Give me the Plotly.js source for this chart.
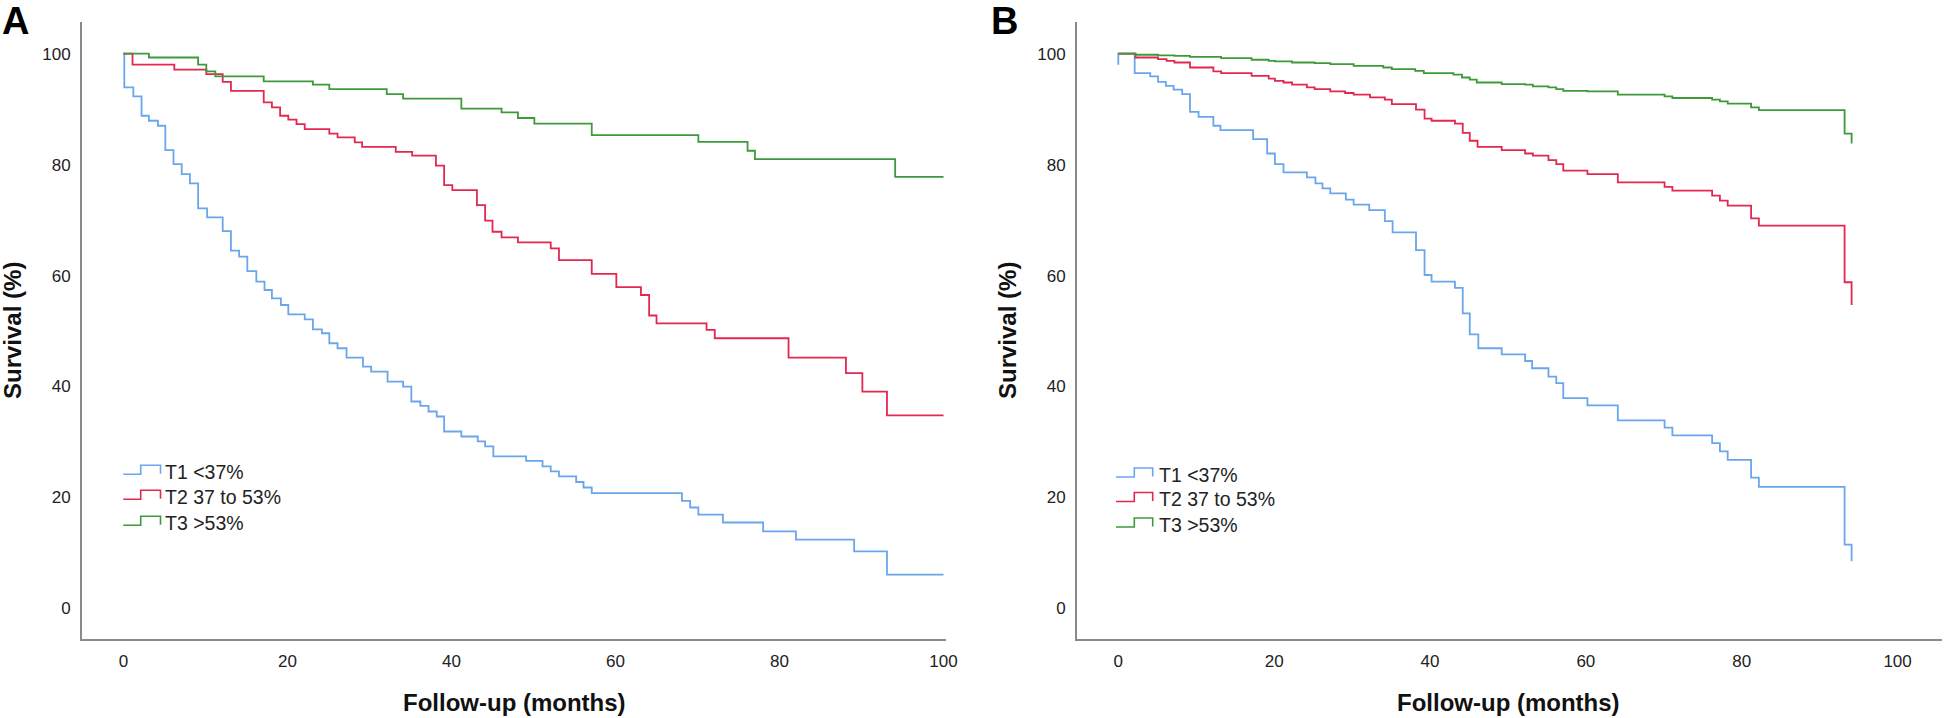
<!DOCTYPE html>
<html>
<head>
<meta charset="utf-8">
<script src="https://cdn.plot.ly/plotly-3.0.1.min.js"></script>
<style>
  html, body { margin: 0; padding: 0; background: #ffffff; }
  #chart { width: 1945px; height: 718px; }
</style>
</head>
<body>
<div id="chart"></div>
<script>
// ---------- Data ----------
const groupNames = ['T1 <37%', 'T2 37 to 53%', 'T3 >53%'];
const xTickVals = [0, 20, 40, 60, 80, 100];
const yTickVals = [0, 20, 40, 60, 80, 100];

// Panel A
const aT1Time = [0, 0.1, 1.2, 2.2, 3.1, 4.2, 5.1, 6.1, 7.1, 8.1, 9.1, 10.2, 12.1, 13.1, 14.1, 15.1, 16.2, 17.2, 18.1, 19.2, 20.1, 22.1, 23.1, 24.2, 25.1, 26.1, 27.2, 29.2, 30.2, 32.2, 34.1, 35.1, 36.2, 37.2, 38.2, 39.1, 41.2, 43.2, 44.1, 45.1, 49.1, 51.1, 52.1, 53.1, 55.2, 56.1, 57.1, 68.1, 69.1, 70.1, 73.1, 78.0, 82.0, 89.1, 93.1, 100];
const aT1Surv = [100, 93.9, 92.3, 88.8, 87.9, 87.0, 82.6, 80.1, 78.3, 76.6, 72.1, 70.5, 68.0, 64.5, 63.4, 60.8, 58.9, 57.4, 55.9, 54.7, 53.0, 52.1, 50.3, 49.6, 47.8, 46.9, 45.2, 43.6, 42.7, 40.9, 40.0, 37.3, 36.5, 35.5, 34.6, 31.9, 31.0, 30.1, 29.2, 27.4, 26.6, 25.6, 24.7, 23.8, 22.8, 21.8, 20.8, 19.4, 18.2, 16.9, 15.5, 13.9, 12.4, 10.3, 6.1, 6.1];

const aT2Time = [0, 1.1, 6.2, 10.1, 12.1, 13.1, 17.1, 18.1, 19.1, 20.1, 21.1, 22.1, 25.1, 26.1, 28.2, 29.1, 33.2, 35.2, 38.1, 39.1, 40.1, 43.1, 44.1, 45.0, 46.1, 48.1, 52.1, 53.1, 57.1, 60.1, 63.1, 64.1, 65.0, 71.1, 72.1, 81.1, 88.1, 90.1, 93.1, 100];
const aT2Surv = [100, 98.0, 97.1, 96.3, 94.9, 93.3, 91.2, 90.3, 88.8, 88.1, 87.3, 86.4, 85.6, 84.9, 84.0, 83.2, 82.3, 81.6, 79.8, 76.3, 75.4, 72.7, 69.9, 67.9, 66.9, 66.0, 64.9, 62.8, 60.3, 57.9, 56.5, 52.8, 51.4, 50.2, 48.7, 45.2, 42.4, 39.1, 34.8, 34.8];

const aT3Time = [0, 3.1, 9.1, 10.1, 11.2, 17.1, 23.1, 25.1, 32.1, 34.1, 41.2, 46.1, 48.1, 50.1, 57.1, 70.1, 76.1, 77.0, 94.1, 100];
const aT3Surv = [100, 99.3, 98.0, 96.8, 95.9, 95.0, 94.4, 93.6, 92.7, 91.9, 90.1, 89.4, 88.4, 87.4, 85.3, 84.1, 82.5, 81.0, 77.8, 77.8];

// Panel B
const bT1Time = [0, 0, 2.1, 4.1, 5.1, 6.1, 7.1, 8.2, 9.2, 10.3, 12.2, 13.1, 17.3, 19.1, 20.1, 21.2, 24.2, 25.3, 26.2, 27.2, 29.2, 30.2, 32.2, 34.2, 35.2, 38.2, 39.3, 40.2, 43.2, 44.2, 45.1, 46.2, 49.2, 52.2, 53.1, 55.2, 56.2, 57.1, 60.2, 64.1, 70.1, 71.1, 76.2, 77.2, 78.2, 81.2, 82.2, 93.2, 94.1];
const bT1Surv = [98.0, 100, 96.5, 95.9, 94.9, 94.2, 93.5, 92.7, 89.5, 88.6, 87.0, 86.2, 84.6, 82.0, 80.1, 78.6, 77.7, 76.6, 75.7, 74.8, 73.7, 72.8, 71.8, 69.8, 67.8, 64.6, 60.1, 58.9, 57.8, 53.2, 49.4, 46.9, 45.8, 44.6, 43.3, 41.8, 40.6, 37.9, 36.6, 33.9, 32.6, 31.2, 29.8, 28.3, 26.8, 23.6, 21.9, 11.5, 8.5];

const bT2Time = [0, 2.2, 5.1, 6.2, 7.2, 9.2, 12.2, 13.2, 17.1, 19.3, 20.1, 21.2, 22.3, 24.2, 25.2, 27.2, 29.1, 30.2, 32.3, 34.2, 35.1, 38.2, 39.3, 40.2, 43.2, 44.2, 45.1, 46.1, 49.2, 52.2, 53.2, 55.2, 56.2, 57.1, 60.2, 64.1, 70.1, 71.1, 76.2, 77.2, 78.2, 81.2, 82.2, 93.2, 94.1];
const bT2Surv = [100, 99.3, 99.0, 98.7, 98.4, 97.5, 96.8, 96.5, 96.0, 95.5, 95.1, 94.8, 94.4, 93.9, 93.6, 93.2, 92.9, 92.6, 92.1, 91.7, 90.9, 89.9, 88.3, 87.9, 87.4, 85.7, 84.3, 83.2, 82.6, 82.0, 81.6, 80.8, 80.1, 78.9, 78.3, 76.8, 76.0, 75.3, 74.4, 73.5, 72.6, 70.3, 69.0, 58.8, 54.7];

const bT3Time = [0, 2.2, 5.1, 7.2, 9.2, 13.2, 17.1, 19.3, 20.1, 22.3, 25.2, 27.2, 30.2, 34.0, 35.1, 38.1, 39.2, 43.0, 44.1, 45.1, 46.0, 49.2, 52.2, 53.2, 55.2, 56.2, 57.1, 60.2, 64.1, 70.1, 71.1, 76.2, 77.2, 78.2, 81.2, 82.2, 93.2, 94.1];
const bT3Surv = [100, 99.8, 99.7, 99.6, 99.4, 99.2, 98.9, 98.7, 98.6, 98.4, 98.3, 98.1, 97.8, 97.5, 97.2, 96.9, 96.5, 96.2, 95.7, 95.3, 94.8, 94.5, 94.4, 94.1, 93.9, 93.6, 93.3, 93.2, 92.6, 92.3, 92.0, 91.7, 91.4, 91.0, 90.3, 89.8, 85.6, 83.8];

// ---------- Style ----------
const W = 1945, H = 718;
const FONT = 'Arial, "Liberation Sans", Helvetica, sans-serif';
const colors = ['#6aa6ec', '#e3284f', '#3e9a38'];
const lineW = 1.8;

function trace(x, y, i, xa, ya) {
  return {
    type: 'scatter', mode: 'lines', x: x, y: y,
    name: groupNames[i], xaxis: xa, yaxis: ya, showlegend: false,
    line: { color: colors[i], width: lineW, shape: 'hv' },
    hoverinfo: 'x+y+name'
  };
}

const data = [
  trace(aT1Time, aT1Surv, 0, 'x', 'y'),
  trace(aT2Time, aT2Surv, 1, 'x', 'y'),
  trace(aT3Time, aT3Surv, 2, 'x', 'y'),
  trace(bT1Time, bT1Surv, 0, 'x2', 'y2'),
  trace(bT2Time, bT2Surv, 1, 'x2', 'y2'),
  trace(bT3Time, bT3Surv, 2, 'x2', 'y2')
];

const px = v => v / W;
const py = v => (H - v) / H;

const axisCommon = {
  showline: true, linecolor: '#8a8a8a', linewidth: 2,
  ticks: '', showgrid: false, zeroline: false,
  tickfont: { family: FONT, size: 17, color: '#222222' },
  fixedrange: true
};

const yDomain = [py(639), py(22)];
const yRange = [-5.5, 105.7];

const titleFont = { family: FONT, size: 24, color: '#111111', weight: 'bold' };
const letterFont = { family: FONT, size: 38, color: '#000000', weight: 'bold' };
const legendFont = { family: FONT, size: 19.5, color: '#222222' };

// Step-shaped legend keys (pixel placement of each panel's key block)
const legendBlocks = [
  { x0: 123.3, xm: 140.7, x1: 160.5, xt: 163, rows: [472.3, 497.3, 523.3] },
  { x0: 1116, xm: 1134.3, x1: 1152.7, xt: 1156.5, rows: [475, 499.5, 525] }
];

const shapes = [];
const annotations = [];
legendBlocks.forEach(b => {
  b.rows.forEach((c, i) => {
    const path = 'M ' + px(b.x0) + ' ' + py(c + 2) +
                 ' L ' + px(b.xm) + ' ' + py(c + 2) +
                 ' L ' + px(b.xm) + ' ' + py(c - 7) +
                 ' L ' + px(b.x1) + ' ' + py(c - 7) +
                 ' L ' + px(b.x1) + ' ' + py(c + 1.5);
    shapes.push({ type: 'path', xref: 'paper', yref: 'paper', path: path,
                  line: { color: colors[i], width: 1.6 } });
    annotations.push({ text: groupNames[i], xref: 'paper', yref: 'paper',
                       x: px(b.xt), y: py(c), xanchor: 'left', yanchor: 'middle',
                       showarrow: false, font: legendFont });
  });
});

annotations.push(
  { text: 'A', xref: 'paper', yref: 'paper', x: px(15.5), y: 1, xanchor: 'center', yanchor: 'top', showarrow: false, font: letterFont, borderpad: 0, borderwidth: 0 },
  { text: 'B', xref: 'paper', yref: 'paper', x: px(1004.5), y: 1, xanchor: 'center', yanchor: 'top', showarrow: false, font: letterFont, borderpad: 0, borderwidth: 0 },
  { text: 'Follow-up (months)', xref: 'paper', yref: 'paper', x: px(514), y: py(702), xanchor: 'center', yanchor: 'middle', showarrow: false, font: titleFont },
  { text: 'Follow-up (months)', xref: 'paper', yref: 'paper', x: px(1508), y: py(702), xanchor: 'center', yanchor: 'middle', showarrow: false, font: titleFont },
  { text: 'Survival (%)', xref: 'paper', yref: 'paper', x: px(12), y: py(331), xanchor: 'center', yanchor: 'middle', textangle: -90, showarrow: false, font: titleFont },
  { text: 'Survival (%)', xref: 'paper', yref: 'paper', x: px(1007), y: py(331), xanchor: 'center', yanchor: 'middle', textangle: -90, showarrow: false, font: titleFont }
);

const layout = {
  width: W, height: H,
  margin: { l: 0, r: 0, t: 0, b: 0 },
  paper_bgcolor: '#ffffff', plot_bgcolor: '#ffffff',
  showlegend: false,
  xaxis: Object.assign({}, axisCommon, {
    domain: [px(82), px(946)], range: [-5.06, 100.3], anchor: 'y',
    tickvals: xTickVals, ticklabelstandoff: 6
  }),
  yaxis: Object.assign({}, axisCommon, {
    domain: yDomain, range: yRange, anchor: 'x',
    tickvals: yTickVals, ticklabelstandoff: 6
  }),
  xaxis2: Object.assign({}, axisCommon, {
    domain: [px(1077), px(1942)], range: [-5.3, 105.7], anchor: 'y2',
    tickvals: xTickVals, ticklabelstandoff: 6
  }),
  yaxis2: Object.assign({}, axisCommon, {
    domain: yDomain, range: yRange, anchor: 'x2',
    tickvals: yTickVals, ticklabelstandoff: 6
  }),
  shapes: shapes,
  annotations: annotations
};

Plotly.newPlot('chart', data, layout, { displayModeBar: false, responsive: false });
</script>
</body>
</html>
